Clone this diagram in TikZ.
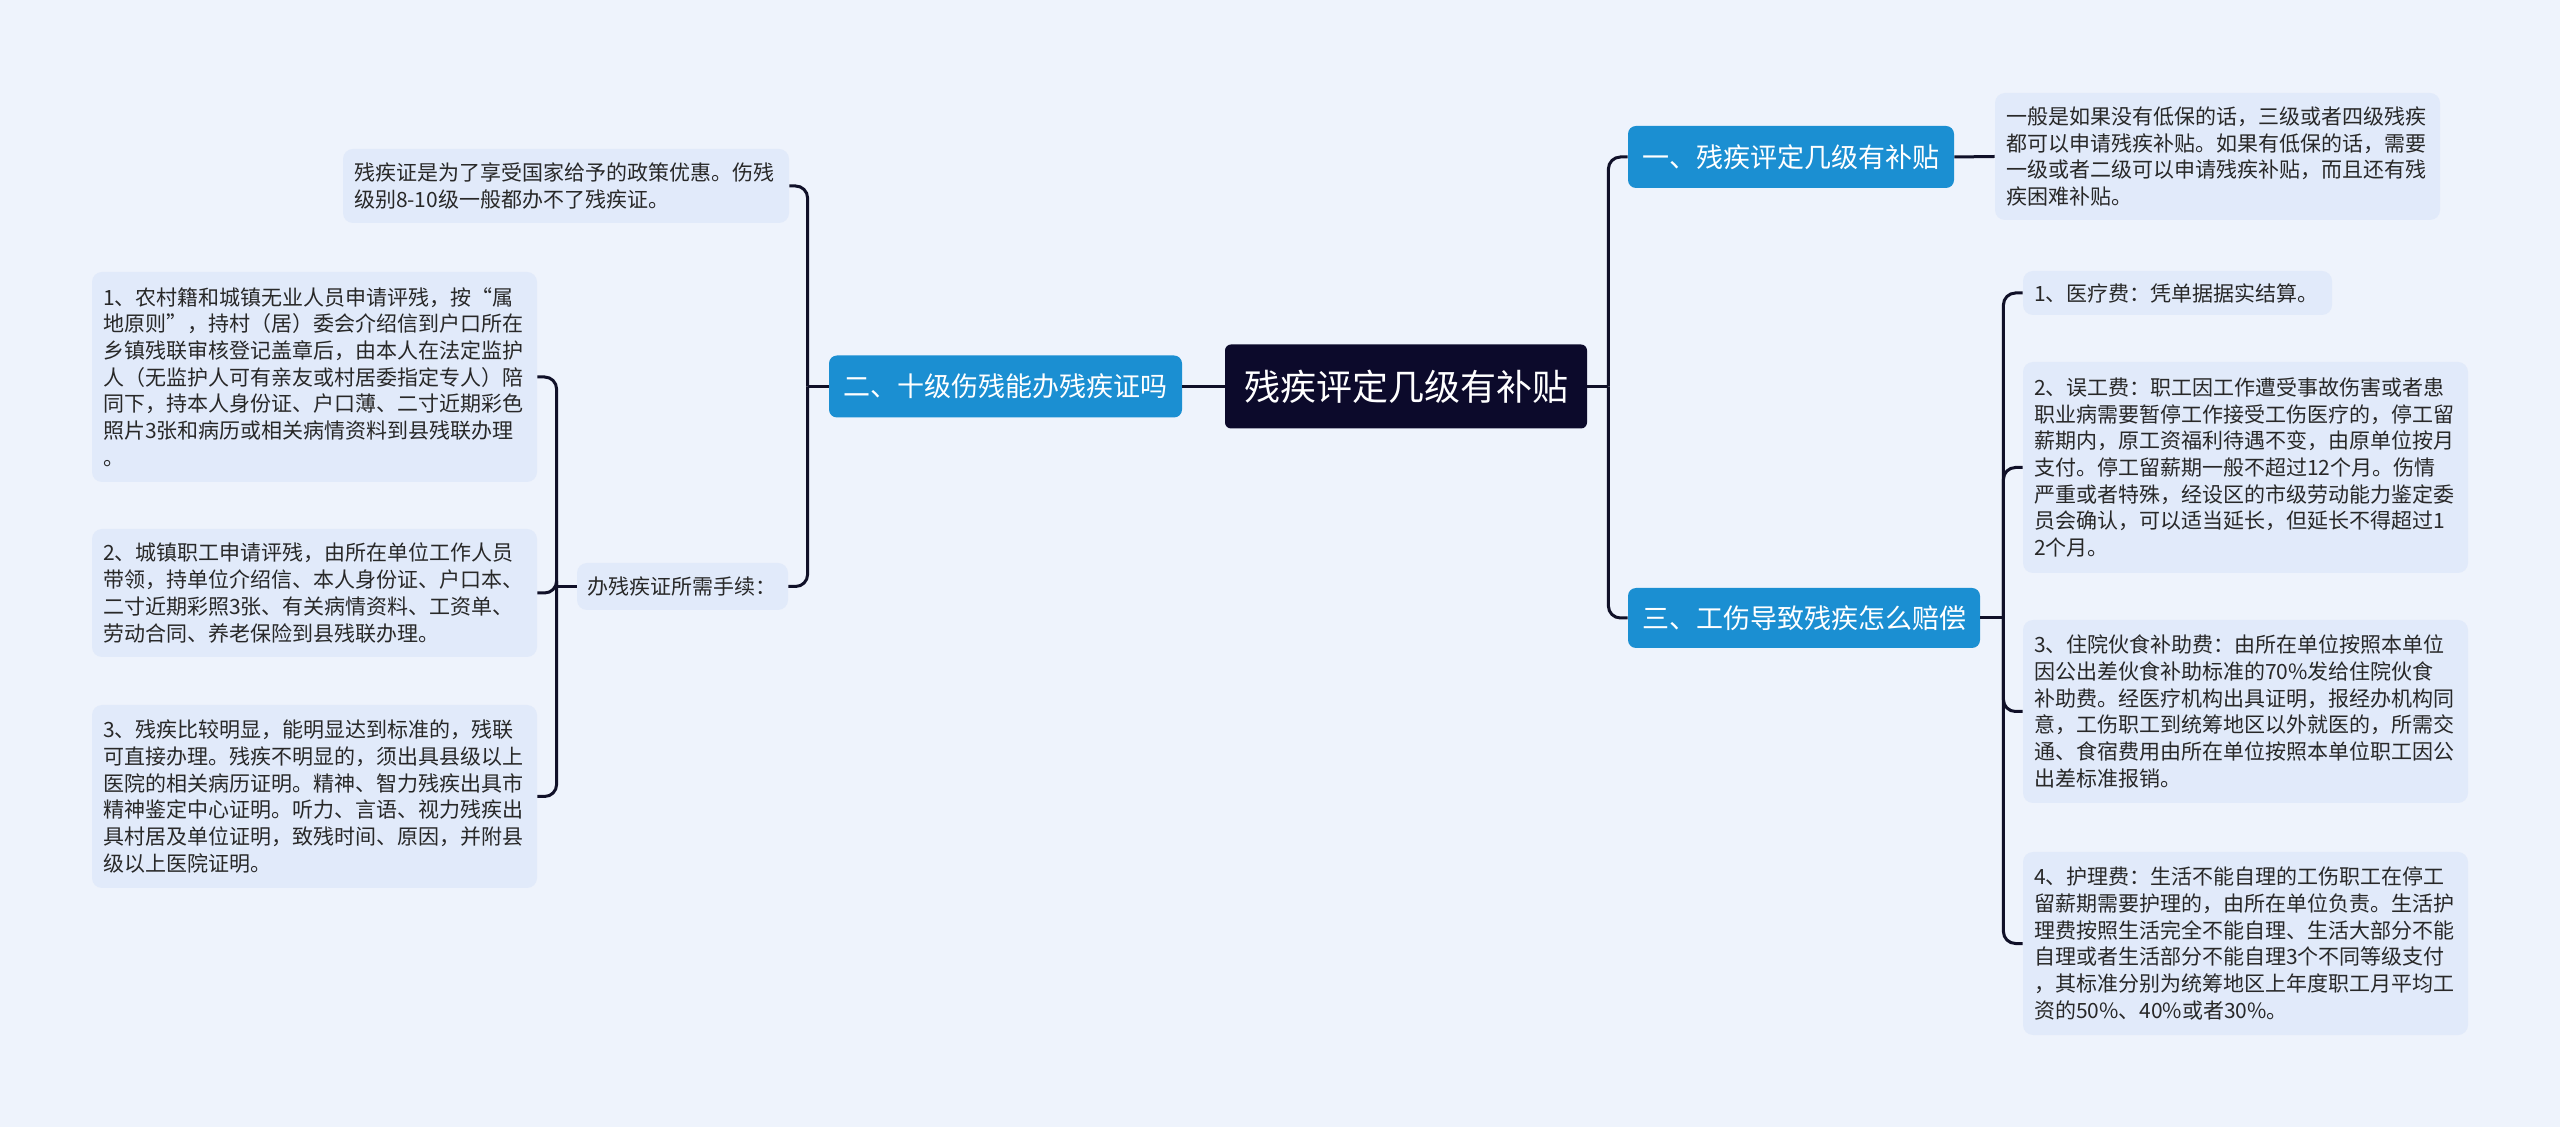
\documentclass[tikz,border=0pt]{standalone}
\usepackage{fontspec}
\setmainfont{Noto Sans CJK SC}
\definecolor{bgc}{RGB}{238,243,252}
\definecolor{boxc}{RGB}{225,234,250}
\definecolor{bluec}{RGB}{27,143,210}
\definecolor{rootc}{RGB}{12,10,43}
\definecolor{linec}{RGB}{16,16,40}
\definecolor{txtc}{RGB}{40,40,40}
\tikzset{
  tbox/.style={fill=boxc, rounded corners=5pt, inner xsep=5.5pt, inner ysep=0pt,
    align=left, text=txtc, font=\fontsize{10.5}{13.35}\selectfont},
  l1box/.style={fill=bluec, rounded corners=4pt, inner sep=0pt, align=center,
    text=white, font=\fontsize{13.5}{16}\selectfont},
  rootbox/.style={fill=rootc, rounded corners=3pt, inner sep=0pt, align=center,
    text=white, font=\fontsize{18}{22}\selectfont},
  conn/.style={draw=linec, line width=1.5pt, rounded corners=6pt}
}
\begin{document}
\begin{tikzpicture}[x=0.5pt,y=-0.5pt]
\path[fill=bgc, use as bounding box] (0,0) rectangle (2560,1127);

% root and first level
\node[rootbox, minimum width=181pt, minimum height=42pt] (root) at (1406,386.5) {残疾评定几级有补贴};
\node[l1box, minimum width=176.5pt, minimum height=31pt] (L1) at (1005.5,386.5) {二、十级伤残能办残疾证吗};
\node[l1box, minimum width=163pt, minimum height=31pt] (R1) at (1791,157) {一、残疾评定几级有补贴};
\node[l1box, minimum width=176pt, minimum height=30pt] (R3) at (1804,618) {三、工伤导致残疾怎么赔偿};

% left side
\node[tbox, text width=212pt, minimum height=37pt] (A) at (566,186) {残疾证是为了享受国家给予的政策优惠。伤残\\级别8-10级一般都办不了残疾证。};
\node[tbox, inner xsep=5.25pt, text width=95pt, minimum height=23.5pt] (P) at (682.5,586.5) {办残疾证所需手续：};
\node[tbox, text width=211.5pt, minimum height=105pt] (I1) at (314.5,377) {1、农村籍和城镇无业人员申请评残，按“属\\地原则”，持村（居）委会介绍信到户口所在\\乡镇残联审核登记盖章后，由本人在法定监护\\人（无监护人可有亲友或村居委指定专人）陪\\同下，持本人身份证、户口薄、二寸近期彩色\\照片3张和病历或相关病情资料到县残联办理\\。};
\node[tbox, text width=211.5pt, minimum height=64pt] (I2) at (314.5,593) {2、城镇职工申请评残，由所在单位工作人员\\带领，持单位介绍信、本人身份证、户口本、\\二寸近期彩照3张、有关病情资料、工资单、\\劳动合同、养老保险到县残联办理。};
\node[tbox, text width=211.5pt, minimum height=91.5pt] (I3) at (314.5,796.5) {3、残疾比较明显，能明显达到标准的，残联\\可直接办理。残疾不明显的，须出具县级以上\\医院的相关病历证明。精神、智力残疾出具市\\精神鉴定中心证明。听力、言语、视力残疾出\\具村居及单位证明，致残时间、原因，并附县\\级以上医院证明。};

% right side
\node[tbox, text width=211.5pt, minimum height=63.5pt] (B) at (2217.5,156.5) {一般是如果没有低保的话，三级或者四级残疾\\都可以申请残疾补贴。如果有低保的话，需要\\一级或者二级可以申请残疾补贴，而且还有残\\疾困难补贴。};
\node[tbox, text width=143.5pt, minimum height=22pt] (C1) at (2177.5,293) {1、医疗费：凭单据据实结算。};
\node[tbox, text width=211.5pt, minimum height=105.5pt] (C2) at (2245.5,467.5) {2、误工费：职工因工作遭受事故伤害或者患\\职业病需要暂停工作接受工伤医疗的，停工留\\薪期内，原工资福利待遇不变，由原单位按月\\支付。停工留薪期一般不超过12个月。伤情\\严重或者特殊，经设区的市级劳动能力鉴定委\\员会确认，可以适当延长，但延长不得超过1\\2个月。};
\node[tbox, text width=211.5pt, minimum height=91.5pt] (C3) at (2245.5,711.5) {3、住院伙食补助费：由所在单位按照本单位\\因公出差伙食补助标准的70\%发给住院伙食\\补助费。经医疗机构出具证明，报经办机构同\\意，工伤职工到统筹地区以外就医的，所需交\\通、食宿费用由所在单位按照本单位职工因公\\出差标准报销。};
\node[tbox, text width=211.5pt, minimum height=91.5pt] (C4) at (2245.5,943.5) {4、护理费：生活不能自理的工伤职工在停工\\留薪期需要护理的，由所在单位负责。生活护\\理费按照生活完全不能自理、生活大部分不能\\自理或者生活部分不能自理3个不同等级支付\\，其标准分别为统筹地区上年度职工月平均工\\资的50\%、40\%或者30\%。};

% spine points
\path (L1.west) ++(-21,0) coordinate (sL);
\path (P.west) ++(-20,0) coordinate (sP);
\path (root.east) ++(21,0) coordinate (sR);
\path (R3.east) ++(23,0) coordinate (sR3);

% connectors
\draw[conn] (root.west) -- (L1.east);
\draw[conn] (L1.west) -- (sL);
\draw[conn] (sL) |- (A.east);
\draw[conn] (sL) |- (P.east);
\draw[conn] (P.west) -- (sP);
\draw[conn] (sP) |- (I1.east);
\draw[conn] (sP) |- (I2.east);
\draw[conn] (sP) |- (I3.east);
\draw[conn] (root.east) -- (sR);
\draw[conn] (sR) |- (R1.west);
\draw[conn] (sR) |- (R3.west);
\draw[conn] (R1.east) -- (B.west);
\draw[conn] (R3.east) -- (sR3);
\draw[conn] (sR3) |- (C1.west);
\draw[conn] (sR3) |- (C2.west);
\draw[conn] (sR3) |- (C3.west);
\draw[conn] (sR3) |- (C4.west);
\end{tikzpicture}
\end{document}
